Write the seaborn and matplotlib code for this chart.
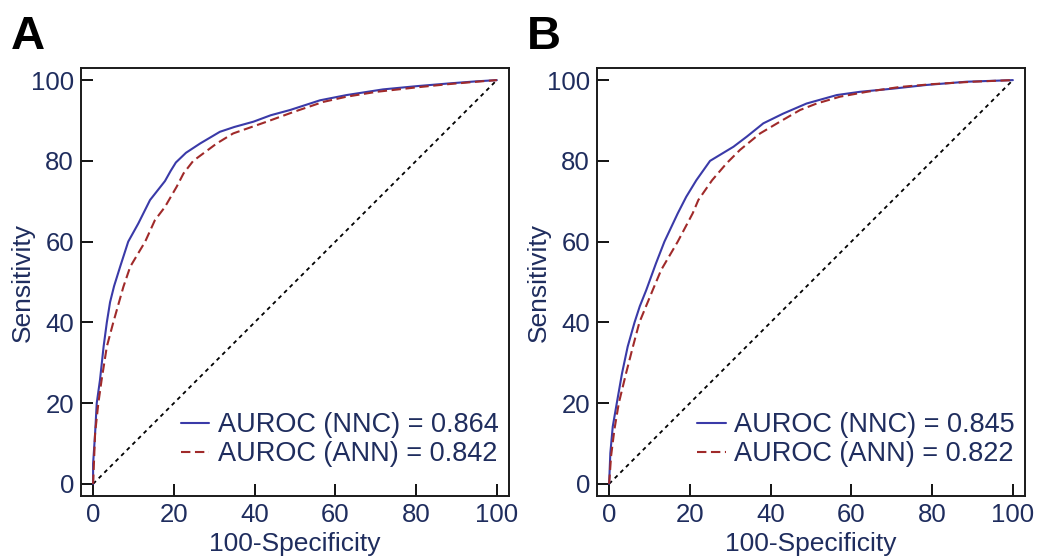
import matplotlib

matplotlib.use("Agg")
import matplotlib.pyplot as plt
import pandas as pd
import seaborn as sns

# ROC points (100-specificity, sensitivity), in percent
A_NNC_FPR = [0, 0, 0.2, 0.5, 0.9, 1.7, 2.6, 3.4, 4.2, 5.2, 6.7, 8.7, 11.2, 14.1, 17.8, 19.2, 20.5,
             23.0, 26.5, 31.4, 35.0, 39.7, 44.0, 48.8, 56.2, 62.8, 71.8, 80.1, 88.4, 95.0, 100]
A_NNC_TPR = [0, 5, 8, 12.6, 20, 25.7, 34, 40, 45, 49, 53.8, 60, 64.5, 70.3, 75, 77.5, 79.6,
             82, 84.3, 87.2, 88.4, 89.7, 91.3, 92.6, 95, 96.3, 97.7, 98.5, 99.2, 99.7, 100]

A_ANN_FPR = [0, 0.2, 0.5, 1.3, 2.1, 3.4, 5.0, 7.5, 9.2, 12.9, 15.3, 17.8, 20.7, 22.4, 24.8,
             30.6, 34.7, 43.0, 49.6, 57.0, 62.8, 70.2, 80.1, 88.0, 95.0, 100]
A_ANN_TPR = [0, 5, 12.6, 20, 25.7, 34, 40, 48.8, 53.8, 60, 65.3, 68.6, 73.6, 76.9, 80,
             84.3, 86.8, 89.7, 92.1, 94.6, 95.9, 97.1, 98.2, 99.0, 99.6, 100]

B_NNC_FPR = [0, 0.3, 0.9, 1.9, 3.2, 4.6, 6.3, 7.6, 9.2, 11.6, 13.7, 17.0, 19.1, 21.6, 25.0,
             30.8, 34.1, 38.2, 43.1, 48.9, 56.4, 62.1, 70.4, 78.6, 88.5, 100]
B_NNC_TPR = [0, 7.6, 14.2, 20, 27.4, 34, 40, 44, 48, 54.6, 60, 67, 71.1, 75.2, 80,
             83.5, 86, 89.3, 91.7, 94.2, 96.3, 97.1, 97.9, 98.8, 99.6, 100]

B_ANN_FPR = [0, 0.5, 1.3, 2.4, 4.2, 5.9, 7.5, 10.8, 12.9, 17.0, 20.7, 22.1, 25.5, 29.1,
             32.4, 37.4, 42.3, 47.3, 51.4, 57.2, 63.8, 72.0, 80.0, 90.0, 100]
B_ANN_TPR = [0, 7, 13.4, 20, 27.4, 34, 40, 48, 53, 60, 67, 70.3, 75.2, 79.4,
             82.7, 86.8, 89.7, 92.6, 94.2, 95.9, 97.1, 98.3, 99, 99.6, 100]

AUROC_A = {"NNC": 0.864, "ANN": 0.842}
AUROC_B = {"NNC": 0.845, "ANN": 0.822}

TICKS = [0, 20, 40, 60, 80, 100]
PANELS = ["A", "B"]

NAVY = "#1f2d5e"
COLORS = {"NNC": "#3a3aa8", "ANN": "#a02a2a"}
DASHES = {"NNC": "", "ANN": (4.5, 2.2)}

plt.rcParams["font.family"] = ["Liberation Sans", "DejaVu Sans"]


def build_frame(nnc_fpr, nnc_tpr, ann_fpr, ann_tpr, auroc):
    frames = []
    for model, fpr, tpr in [("NNC", nnc_fpr, nnc_tpr), ("ANN", ann_fpr, ann_tpr)]:
        label = f"AUROC ({model}) = {auroc[model]:.3f}"
        frames.append(pd.DataFrame({"fpr": fpr, "tpr": tpr, "label": label, "model": model}))
    return pd.concat(frames, ignore_index=True)


def draw_panel(ax, df, letter):
    labels = list(dict.fromkeys(df["label"]))
    palette = {lab: COLORS[df.loc[df["label"] == lab, "model"].iloc[0]] for lab in labels}
    dashes = {lab: DASHES[df.loc[df["label"] == lab, "model"].iloc[0]] for lab in labels}

    ax.plot([0, 100], [0, 100], color="black", linestyle=(0, (2.2, 2.2)), linewidth=1.3)
    sns.lineplot(
        data=df, x="fpr", y="tpr", hue="label", style="label",
        palette=palette, dashes=dashes, sort=False, estimator=None,
        linewidth=1.5, ax=ax,
    )

    ax.set_xlim(-3, 103)
    ax.set_ylim(-3, 103)
    ax.set_xticks(TICKS)
    ax.set_yticks(TICKS)
    ax.tick_params(direction="in", length=8.5, width=1.3, color="black",
                   labelcolor=NAVY, labelsize=18.5, pad=5)
    for spine in ax.spines.values():
        spine.set_visible(True)
        spine.set_color("#1a1a1a")
        spine.set_linewidth(1.4)

    ax.set_xlabel("100-Specificity", fontsize=19, color=NAVY)
    ax.set_ylabel("Sensitivity", fontsize=19, color=NAVY)
    ax.xaxis.set_label_coords(0.5, -0.084)
    ax.yaxis.set_label_coords(-0.108, 0.5)

    handles, leg_labels = ax.get_legend_handles_labels()
    ax.legend(
        handles, leg_labels, loc="lower right", bbox_to_anchor=(0.975, 0.067),
        frameon=False, fontsize=19.5, labelcolor=NAVY, handlelength=1.05,
        handletextpad=0.3, labelspacing=0.12, borderpad=0, borderaxespad=0,
    )

    pos = ax.get_position()
    ax.figure.text(pos.x0 - 0.068, 0.912, letter, fontsize=34, fontweight="bold",
                   color="black", ha="left", va="baseline")


def main():
    sns.set_style("ticks")
    plt.rcParams["font.family"] = ["Liberation Sans", "DejaVu Sans"]

    fig = plt.figure(figsize=(10.37, 5.56), dpi=100)
    ax_a = fig.add_axes([0.0781, 0.1079, 0.4127, 0.7698])
    ax_b = fig.add_axes([0.5757, 0.1079, 0.4127, 0.7698])

    df_a = build_frame(A_NNC_FPR, A_NNC_TPR, A_ANN_FPR, A_ANN_TPR, AUROC_A)
    df_b = build_frame(B_NNC_FPR, B_NNC_TPR, B_ANN_FPR, B_ANN_TPR, AUROC_B)

    draw_panel(ax_a, df_a, PANELS[0])
    draw_panel(ax_b, df_b, PANELS[1])

    fig.savefig("out.png", dpi=100)
    plt.close(fig)


if __name__ == "__main__":
    main()
